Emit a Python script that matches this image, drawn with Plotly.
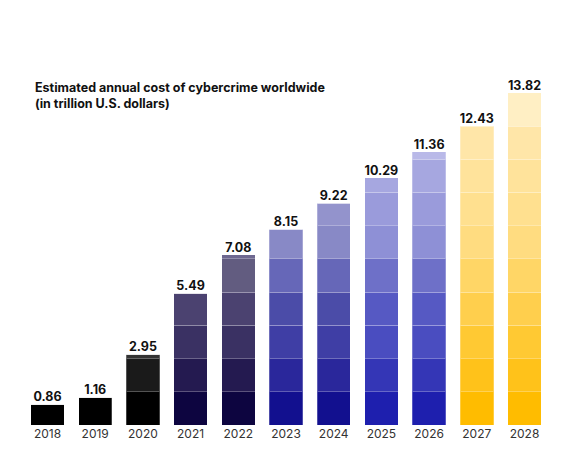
import plotly.graph_objects as go

years = ["2018","2019","2020","2021","2022","2023","2024","2025","2026","2027","2028"]
values = [0.86,1.16,2.95,5.49,7.08,8.15,9.22,10.29,11.36,12.43,13.82]
band = 1.382
blk = ["#000000","#1a1a1a","#333333"]
dark = ["#0d0540","#241a50","#3a3163","#4b4270","#625c80","#6e6890"]
blue1 = ["#12108f","#2a279b","#3f3ea5","#4b4ca8","#6667b8","#8889c6","#9393cc"]
blue2 = ["#1e1fae","#3436b6","#4a4dc0","#5659c3","#6e70c8","#8e90d6","#9a9bdb","#a6a7e0","#b9b9e8"]
gold = ["#ffbc00","#ffc21a","#ffc933","#ffcf4d","#ffd666","#ffdc80","#ffe08f","#ffe39b","#ffe6a8","#ffefc4"]
palettes = [blk,blk,blk,dark,dark,blue1,blue1,blue2,blue2,gold,gold]

fig = go.Figure()
for k in range(10):
    ys = [max(0.0, min(band, v - k*band)) for v in values]
    cols = [p[min(k, len(p)-1)] for p in palettes]
    fig.add_trace(go.Bar(x=years, y=ys, marker=dict(color=cols, line=dict(color="rgba(255,255,255,0.25)", width=1)),
                         hoverinfo="skip", showlegend=False))
fig.add_trace(go.Scatter(x=years, y=values, mode="text", text=[f"{v:.2f}" for v in values],
                         textposition="top center", textfont=dict(family="Inter", size=12.5, color="#111", weight="bold"),
                         showlegend=False, cliponaxis=False))
fig.update_layout(
    barmode="stack", bargap=0.3, width=575, height=452,
    margin=dict(l=13, r=32, t=30, b=35),
    plot_bgcolor="white", paper_bgcolor="white",
    xaxis=dict(showgrid=False, showline=False, ticks="", tickfont=dict(family="Inter", size=12, color="#333")),
    yaxis=dict(range=[0, 16.1], visible=False),
    annotations=[dict(x=0.0, xref="paper", y=1.0, yref="paper", xanchor="left", yanchor="top", xshift=12, yshift=-40,
                      text="<b>Estimated annual cost of cybercrime worldwide<br>(in trillion U.S. dollars)</b>",
                      showarrow=False, align="left", font=dict(family="Inter", size=12.5, color="#111"))],
)
fig.write_html("out.html")
